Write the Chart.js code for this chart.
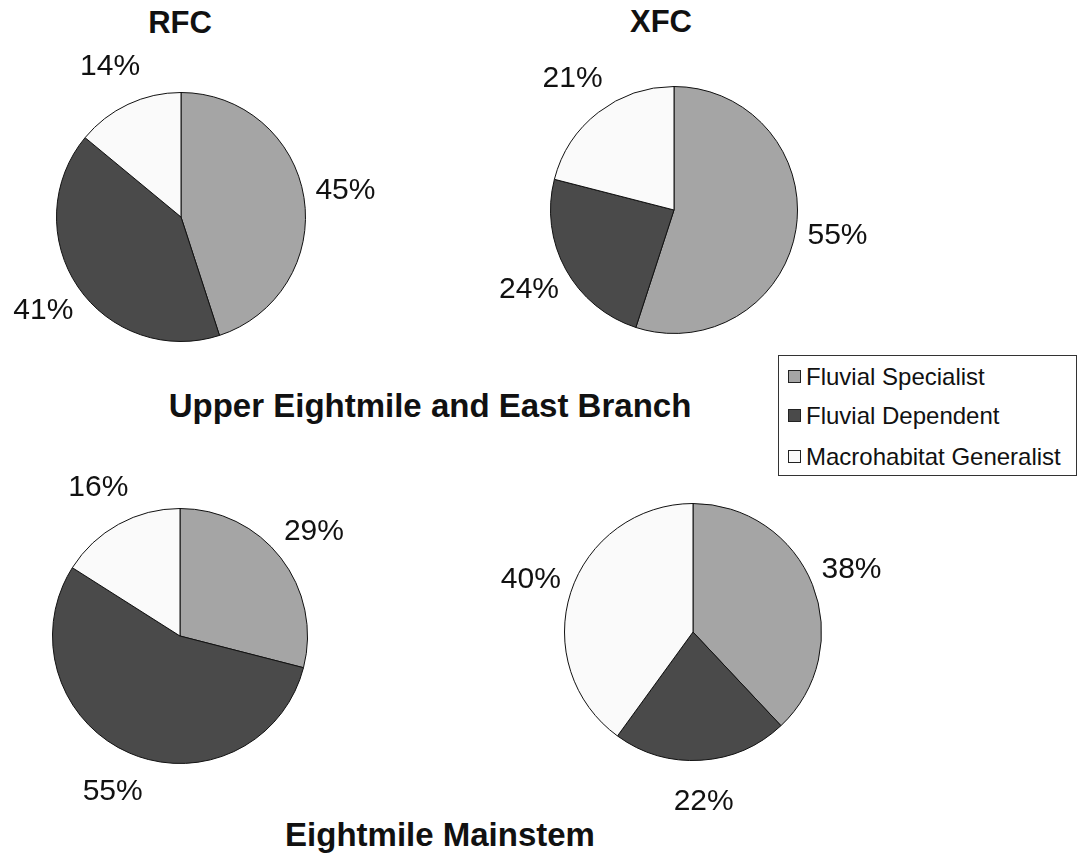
<!DOCTYPE html>
<html lang="en">
<head>
<meta charset="UTF-8">
<title>Fish habitat guilds</title>
<script src="https://cdn.jsdelivr.net/npm/chart.js"></script>
<style>
  body { margin: 0; background: #fff; font-family: "Liberation Sans", Arial, sans-serif; overflow: hidden; }
  #page { position: relative; width: 1080px; height: 853px; overflow: hidden; }
  .pie { position: absolute; width: 480px; height: 420px; }
  .title { position: absolute; font-weight: bold; color: #111; line-height: 1; transform: translateX(-50%); white-space: nowrap; }
  #legend { position: absolute; left: 778px; top: 355px; width: 299px; height: 121px; border: 1px solid #333; box-sizing: border-box; font-size: 24px; line-height: 24px; color: #111; background: #fff; }
  #legend div { position: absolute; left: 9px; white-space: nowrap; }
  #legend span { display: inline-block; width: 11px; height: 11px; border: 1px solid #222; margin-right: 5px; vertical-align: 2px; }
</style>
</head>
<body>
<div id="page">
  <div class="title" style="left:180px; top:7px; font-size:31px;">RFC</div>
  <div class="title" style="left:661px; top:6px; font-size:31px;">XFC</div>
  <div class="title" style="left:430px; top:389px; font-size:33px;">Upper Eightmile and East Branch</div>
  <div class="title" style="left:440px; top:818px; font-size:33px;">Eightmile Mainstem</div>

  <div id="legend"></div>

  <canvas id="pieUpperRFC" class="pie" width="480" height="420" style="left:-59px; top:7px;"></canvas>
  <canvas id="pieUpperXFC" class="pie" width="480" height="420" style="left:434px; top:0px;"></canvas>
  <canvas id="pieMainRFC" class="pie" width="480" height="420" style="left:-60px; top:426px;"></canvas>
  <canvas id="pieMainXFC" class="pie" width="480" height="420" style="left:453px; top:422px;"></canvas>
</div>

<script>
// guild categories
const guilds = ['Fluvial Specialist', 'Fluvial Dependent', 'Macrohabitat Generalist'];
const guildColors = ['#a5a5a5', '#4a4a4a', '#fafafa'];

// percent of catch per guild
const upperRFC = [45, 41, 14];
const upperXFC = [55, 24, 21];
const mainRFC = [29, 55, 16];
const mainXFC = [38, 22, 40];

// legend
const legendEl = document.getElementById('legend');
const legendTops = [9, 48, 89];
guilds.forEach((g, i) => {
    const row = document.createElement('div');
    row.style.top = legendTops[i] + 'px';
    row.innerHTML = '<span style="background:' + guildColors[i] + '"></span>' + g;
    legendEl.appendChild(row);
});

// 🔹 percent labels outside each slice
const outsideLabels = {
    id: 'outsideLabels',
    afterDatasetsDraw(chart) {
        const ctx = chart.ctx;
        const meta = chart.getDatasetMeta(0);
        const vals = chart.data.datasets[0].data;
        ctx.save();
        ctx.font = '30px "Liberation Sans", Arial, sans-serif';
        ctx.fillStyle = '#111';
        ctx.textAlign = 'center';
        ctx.textBaseline = 'middle';
        meta.data.forEach((arc, i) => {
            const mid = (arc.startAngle + arc.endAngle) / 2;
            const r = arc.outerRadius + 42;
            ctx.fillText(vals[i] + '%', arc.x + Math.cos(mid) * r, arc.y + Math.sin(mid) * r);
        });
        ctx.restore();
    }
};

function makePie(id, values, radius) {
    const ctx = document.getElementById(id).getContext('2d');
    new Chart(ctx, {
        type: 'pie',
        data: {
            labels: guilds,
            datasets: [{
                data: values,
                backgroundColor: guildColors,
                borderColor: '#111',
                borderWidth: 1
            }]
        },
        options: {
            responsive: false,
            animation: false,
            layout: { padding: { left: 240 - radius, right: 240 - radius, top: 210 - radius, bottom: 210 - radius } },
            plugins: { legend: { display: false }, tooltip: { enabled: false } }
        },
        plugins: [outsideLabels]
    });
}

makePie('pieUpperRFC', upperRFC, 125);
makePie('pieUpperXFC', upperXFC, 124);
makePie('pieMainRFC', mainRFC, 128);
makePie('pieMainXFC', mainXFC, 129);
</script>
</body>
</html>
